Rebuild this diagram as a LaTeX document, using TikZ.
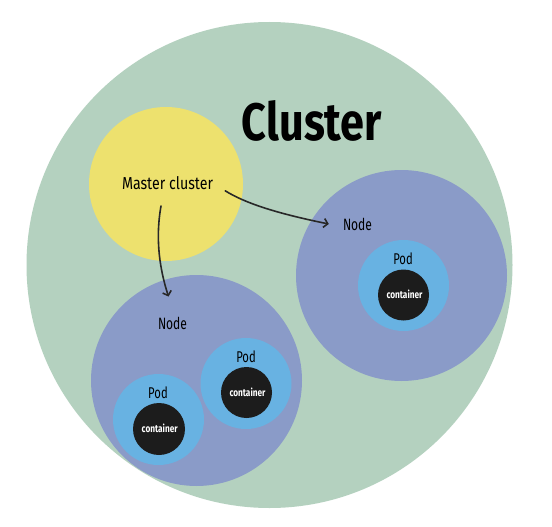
\documentclass[tikz,border=0pt]{standalone}
\usepackage{fontspec}
\setmainfont{Fira Sans}
\usetikzlibrary{arrows.meta,calc}
\definecolor{clgreen}{RGB}{180,209,191}
\definecolor{clyellow}{RGB}{237,225,110}
\definecolor{clnode}{RGB}{138,155,200}
\definecolor{clpod}{RGB}{104,178,226}
\definecolor{clcont}{RGB}{28,28,28}
\definecolor{clarrow}{RGB}{40,40,40}
\newcommand\mytxt[3]{\resizebox{#1pt}{#2pt}{#3}}
\begin{document}
\begin{tikzpicture}[x=1pt,y=-1pt,
  disc/.style={circle, inner sep=0pt, minimum size=#1},
  lbl/.style={inner sep=0pt, text=black},
  ctext/.style={inner sep=0pt, text=white},
  link/.style={draw=clarrow, line width=1.6pt, line cap=round,
    -{Straight Barb[length=4pt,width=9pt]}}]
\useasboundingbox (0,0) rectangle (552,527);
\fill[white] (0,0) rectangle (552,527);
% circles
\node[disc=486pt, fill=clgreen] (cluster) at (269.5,265) {};
\node[disc=154pt, fill=clyellow] (master) at (166,184) {};
\node[disc=211pt, fill=clnode] (nodeR) at (401.5,275.5) {};
\node[disc=211pt, fill=clnode] (nodeL) at (196.5,380.5) {};
\node[disc=91pt, fill=clpod] (podR) at (403.5,285.5) {};
\node[disc=51pt, fill=clcont] (contR) at (403.5,295) {};
\node[disc=91pt, fill=clpod] (podLU) at (246,383.5) {};
\node[disc=51pt, fill=clcont] (contLU) at (246.5,392.5) {};
\node[disc=91pt, fill=clpod] (podLL) at (158.5,419.5) {};
\node[disc=52pt, fill=clcont] (contLL) at (159,429) {};
% texts
\node[lbl] (tcluster) at (312,121) {\mytxt{140}{40}{\bfseries Cluster}};
\node[lbl] (tmaster) at (167.5,183) {\mytxt{91}{13}{Master cluster}};
\node[lbl] (tnodeR) at (357.5,224) {\mytxt{29}{12.3}{Node}};
\node[lbl] (tnodeL) at (172.5,323) {\mytxt{29}{12.3}{Node}};
\node[lbl] (tpodR) at (403,258.5) {\mytxt{19.5}{11.7}{Pod}};
\node[lbl] (tpodLU) at (246,357) {\mytxt{19.5}{11.7}{Pod}};
\node[lbl] (tpodLL) at (158,392.5) {\mytxt{19.5}{11.7}{Pod}};
\node[ctext] (tcontR) at (404.5,294.5) {\mytxt{36}{8.5}{\bfseries container}};
\node[ctext] (tcontLU) at (247.5,392.5) {\mytxt{36}{8.5}{\bfseries container}};
\node[ctext] (tcontLL) at (159.7,428.3) {\mytxt{36}{8.5}{\bfseries container}};
% arrows
\coordinate (s1) at ($(tmaster.south east)+(12,1)$);
\coordinate (e1) at ($(tnodeR.west)+(-14,0)$);
\coordinate (s2) at (161,206);
\coordinate (e2) at ($(tnodeL.north)+(-4,-20)$);
\draw[link] (s1) .. controls (245,203) and (275,213) .. (e1);
\draw[link] (s2) .. controls (155,240) and (160,270) .. (e2);
\end{tikzpicture}
\end{document}
